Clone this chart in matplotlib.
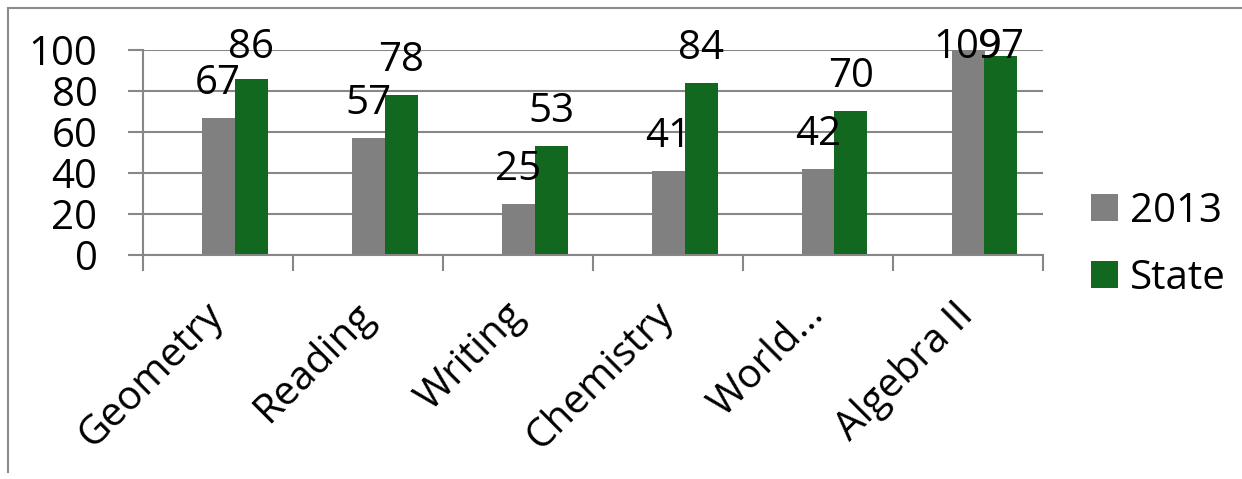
import numpy as np
import matplotlib
matplotlib.use('Agg')
import matplotlib.pyplot as plt
from matplotlib.lines import Line2D

plt.rcParams['font.family'] = ['Open Sans', 'DejaVu Sans']

# Pass rates by subject, school vs state
subjects = ['Geometry', 'Reading', 'Writing', 'Chemistry', 'World…', 'Algebra II']
scores_2013 = [67, 57, 25, 41, 42, 109]
scores_state = [86, 78, 53, 84, 70, 97]

gray = '#808080'
green = '#11681e'
line_gray = '#878787'
fs = 29

W, H = 1242, 479
fig = plt.figure(figsize=(W / 100, H / 100), dpi=100)
ax = fig.add_axes([143 / W, 1 - 255 / H, 900 / W, 205 / H])

x = np.arange(len(subjects))
w = 0.22
ax.bar(x, scores_2013, w, color=gray, label='2013', zorder=2)
ax.bar(x + w, scores_state, w, color=green, label='State', zorder=2)

ax.set_xlim(-0.5, len(subjects) - 0.5)
ax.set_ylim(0, 100)
ax.set_yticks(range(0, 101, 20))
ax.yaxis.grid(True, color=line_gray, lw=1.5)
ax.set_axisbelow(True)

for side in ['top', 'right']:
    ax.spines[side].set_visible(False)
for side in ['left', 'bottom']:
    ax.spines[side].set_color(line_gray)
    ax.spines[side].set_linewidth(1.5)

ax.tick_params(axis='y', length=10.8, width=1.5, color=line_gray, pad=22, labelsize=fs)

# category labels at the centers, tick marks between categories
ax.set_xticks(x)
ax.set_xticklabels(subjects, rotation=45, ha='right', va='center', rotation_mode='anchor')
ax.set_xticks(np.arange(-0.5, len(subjects), 1), minor=True)
ax.tick_params(axis='x', which='major', length=0, pad=39, labelsize=fs)
ax.tick_params(axis='x', which='minor', length=11.5, width=1.5, color=line_gray)

# value labels, kept inside the chart when a bar runs off the top
for offs, vals in [(0, scores_2013), (w, scores_state)]:
    for xi, v in zip(x + offs, vals):
        ax.annotate(str(v), xy=(xi, min(v, 84.4)), xytext=(0, 17.3),
                    textcoords='offset points', ha='center', va='baseline',
                    fontsize=fs, annotation_clip=False)

ax.legend(loc='center left', bbox_to_anchor=(1091 / W, 1 - 245 / H),
          bbox_transform=fig.transFigure, frameon=False, fontsize=fs,
          handlelength=0.67, handleheight=0.67, handletextpad=0.3,
          labelspacing=0.65, borderpad=0, borderaxespad=0)

# chart frame
fig.add_artist(Line2D([8 / W, 8 / W], [1 - 472 / H, 1 - 8 / H],
                      transform=fig.transFigure, color='#8c8c8c', lw=1.5))
fig.add_artist(Line2D([8 / W, 1], [1 - 8 / H, 1 - 8 / H],
                      transform=fig.transFigure, color='#8c8c8c', lw=1.5))

fig.savefig('out.png', dpi=100)
